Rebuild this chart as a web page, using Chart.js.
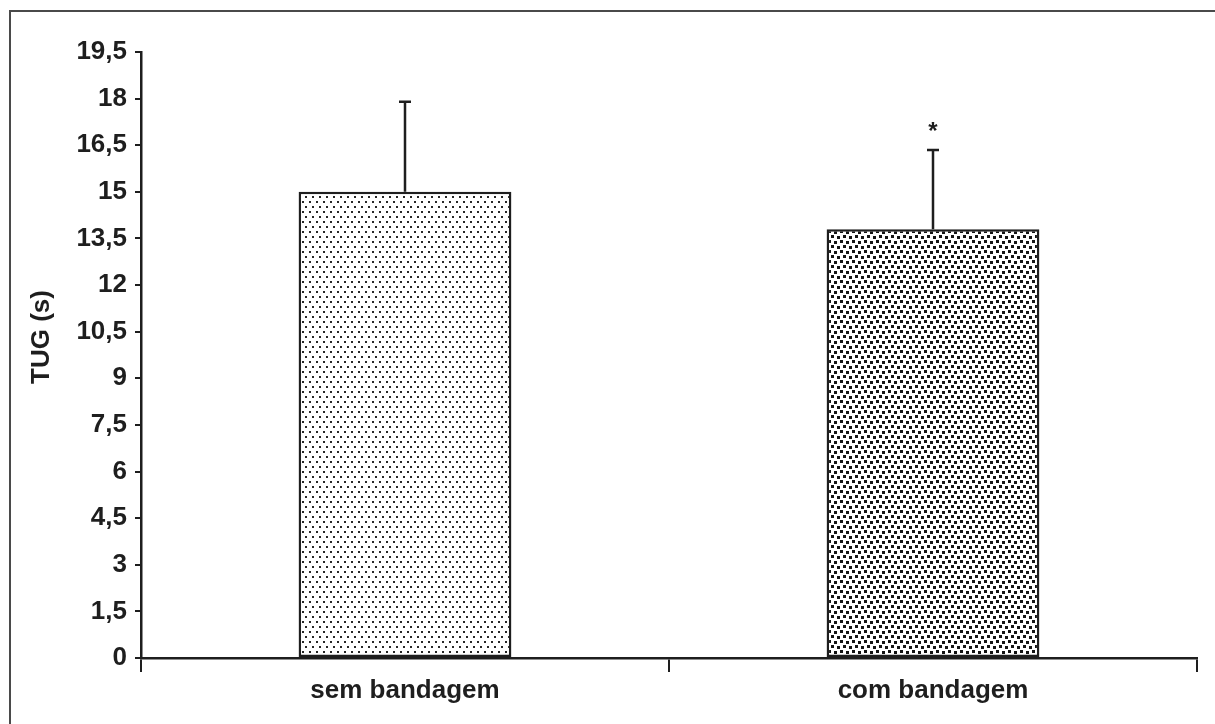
<!DOCTYPE html>
<html>
<head>
<meta charset="utf-8">
<script src="https://cdn.jsdelivr.net/npm/chart.js@4/dist/chart.umd.min.js"></script>
<style>
    html, body { margin: 0; padding: 0; background: #fff; }
    #wrap { width: 1215px; height: 724px; }
</style>
</head>
<body>
<div id="wrap"><canvas id="tugChart" width="1215" height="724"></canvas></div>
<script>
const categories = ["sem bandagem", "com bandagem"];
const tugMeans = [15.0, 13.8];
const tugErrors = [2.9, 2.55];
const markers = ["", "*"];
const yTicks = [0, 1.5, 3, 4.5, 6, 7.5, 9, 10.5, 12, 13.5, 15, 16.5, 18, 19.5];

const FONT = "'Liberation Sans', Arial, sans-serif";
const INK = "#1e1e1e";

function dotPattern(tileW, tileH, dots, size, color) {
    const c = document.createElement("canvas");
    c.width = tileW;
    c.height = tileH;
    const g = c.getContext("2d");
    g.fillStyle = "#fff";
    g.fillRect(0, 0, tileW, tileH);
    g.fillStyle = color;
    dots.forEach(d => g.fillRect(d[0], d[1], size, size));
    return g.createPattern(c, "repeat");
}

const ctx = document.getElementById("tugChart").getContext("2d");
const fineDots = dotPattern(14, 10, [[1, 1], [8, 1], [4, 6], [11, 6]], 2, "#262626");
const coarseDots = dotPattern(12, 10, [[0, 0], [6, 1], [3, 5], [9, 6]], 3, "#141414");

const framePlugin = {
    id: "frame",
    beforeDraw(chart) {
        const c = chart.ctx;
        c.save();
        c.strokeStyle = "#4a4a4a";
        c.lineWidth = 2;
        c.beginPath();
        c.moveTo(10, chart.height);
        c.lineTo(10, 11);
        c.lineTo(chart.width, 11);
        c.stroke();
        // y axis title
        c.translate(42, 337);
        c.rotate(-Math.PI / 2);
        c.fillStyle = INK;
        c.font = "bold 26px " + FONT;
        c.textAlign = "center";
        c.textBaseline = "middle";
        c.fillText("TUG (s)", 0, 0);
        c.restore();
    }
};

const errorBarPlugin = {
    id: "errorBars",
    afterDatasetsDraw(chart) {
        const c = chart.ctx;
        const y = chart.scales.y;
        const meta = chart.getDatasetMeta(0);
        c.save();
        c.strokeStyle = INK;
        c.lineWidth = 2.5;
        meta.data.forEach((bar, i) => {
            const top = y.getPixelForValue(tugMeans[i] + tugErrors[i]);
            c.beginPath();
            c.moveTo(bar.x, bar.y);
            c.lineTo(bar.x, top);
            c.moveTo(bar.x - 6, top);
            c.lineTo(bar.x + 6, top);
            c.stroke();
            if (markers[i]) {
                c.fillStyle = INK;
                c.font = "bold 24px " + FONT;
                c.textAlign = "center";
                c.textBaseline = "bottom";
                c.fillText(markers[i], bar.x, top - 6);
            }
        });
        c.restore();
    }
};

new Chart(ctx, {
    type: "bar",
    data: {
        labels: categories,
        datasets: [{
            data: tugMeans,
            backgroundColor: [fineDots, coarseDots],
            borderColor: INK,
            borderWidth: 2.5,
            borderSkipped: false,
            barPercentage: 0.403,
            categoryPercentage: 1
        }]
    },
    options: {
        responsive: false,
        animation: false,
        layout: { padding: { left: 0, top: 52, right: 18, bottom: 0 } },
        plugins: {
            legend: { display: false },
            tooltip: { enabled: false }
        },
        scales: {
            x: {
                offset: true,
                grid: {
                    offset: true,
                    drawOnChartArea: false,
                    color: INK,
                    lineWidth: 2,
                    tickLength: 14
                },
                border: { color: INK, width: 2.5 },
                ticks: {
                    color: INK,
                    padding: 3,
                    font: { family: FONT, size: 26, weight: "bold" }
                },
                afterFit(scale) { scale.height = 66; }
            },
            y: {
                min: 0,
                max: 19.5,
                afterBuildTicks(scale) {
                    scale.ticks = yTicks.map(v => ({ value: v }));
                },
                grid: {
                    drawOnChartArea: false,
                    color: INK,
                    lineWidth: 2,
                    tickLength: 6
                },
                border: { color: INK, width: 2.5 },
                ticks: {
                    color: INK,
                    padding: 8,
                    font: { family: FONT, size: 26, weight: "bold" },
                    callback: v => String(v).replace(".", ",")
                },
                afterFit(scale) { scale.width = 141; }
            }
        }
    },
    plugins: [framePlugin, errorBarPlugin]
});
</script>
</body>
</html>
